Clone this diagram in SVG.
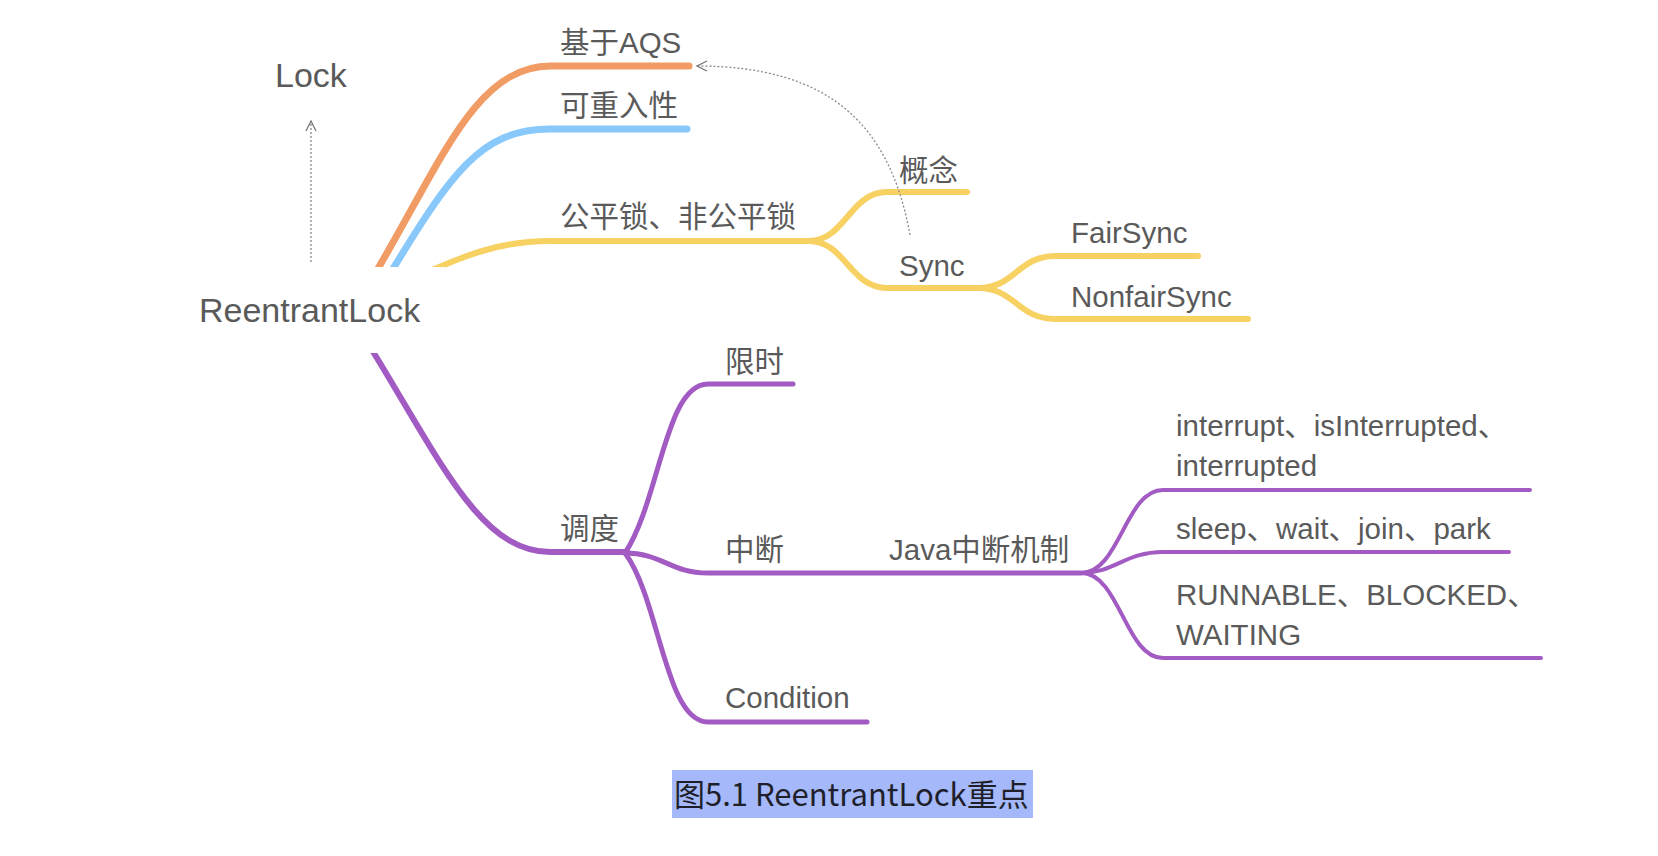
<svg xmlns="http://www.w3.org/2000/svg" width="1658" height="856" viewBox="0 0 1658 856">
<style>
.t{font-family:"Liberation Sans","Noto Sans CJK SC",sans-serif;font-size:29.5px;fill:#5a5a5a}
.big{font-size:34px}
.c{fill:none;stroke-linecap:round;stroke-linejoin:round}
.o{stroke:#F19C65;stroke-width:7}
.b{stroke:#88C8FB;stroke-width:7}
.y{stroke:#F8D163;stroke-width:6}
.p{stroke:#A25BC3;stroke-width:6}
.p2{stroke:#A25BC3;stroke-width:5}
.p3{stroke:#A25BC3;stroke-width:4}
.dot{fill:none;stroke:#8a8a8a;stroke-width:1.3;stroke-dasharray:2 2}
.cap{font-family:"Noto Sans CJK SC","Noto Sans",sans-serif;font-size:31px;fill:#1f1f2a}
</style>
<defs>
<marker id="ah" viewBox="0 0 12 12" refX="11" refY="6" markerWidth="12" markerHeight="12" markerUnits="userSpaceOnUse" orient="auto">
<path d="M1,1 L11,6 L1,11" fill="none" stroke="#777" stroke-width="1.3"/>
</marker>
</defs>
<rect width="1658" height="856" fill="#fff"/>
<g id="connectors">
<path class="c o" d="M373,277 C440,165 475,66 550,66 L689,66"/>
<path class="c b" d="M388,277 C450,175 480,129 550,129 L687,129"/>
<path class="c y" d="M410,280 C470,252 505,241 550,241 L809,241"/>
<path class="c y" d="M809,241 C845,241 850,192 887,192 L967,192"/>
<path class="c y" d="M809,241 C845,241 850,288 887,288 L978,288"/>
<path class="c y" d="M978,288 C1015,288 1018,256 1055,256 L1198,256"/>
<path class="c y" d="M978,288 C1015,288 1018,319 1055,319 L1248,319"/>
<path class="c p" d="M369,345 C440,460 480,552 550,552 L627,552"/>
<path class="c p2" d="M625,553 C660,500 665,384 708,384 L793,384"/>
<path class="c p2" d="M625,553 C662,553 670,573 708,573 L1081,573"/>
<path class="c p2" d="M625,553 C660,600 665,722 708,722 L867,722"/>
<path class="c p3" d="M1081,573 C1120,573 1125,490 1163,490 L1530,490"/>
<path class="c p3" d="M1081,573 C1115,573 1125,552 1163,552 L1509,552"/>
<path class="c p3" d="M1081,573 C1120,573 1125,658 1163,658 L1541,658"/>
<path class="dot" d="M910,235 C890,125 830,66 697,66" marker-end="url(#ah)"/>
<path class="dot" d="M311,262 L311,121" marker-end="url(#ah)"/>
</g>
<g id="root">
<rect x="180" y="267" width="265" height="86" fill="#fff"/>
<text class="t big" x="199" y="322">ReentrantLock</text>
</g>
<g id="lock"><text class="t big" x="275" y="87">Lock</text></g>
<g id="aqs"><text class="t" x="560" y="53">基于AQS</text></g>
<g id="reentrant"><text class="t" x="560" y="116">可重入性</text></g>
<g id="fair"><text class="t" x="560" y="227">公平锁、非公平锁</text></g>
<g id="concept"><text class="t" x="899" y="181">概念</text></g>
<g id="sync"><text class="t" x="899" y="276">Sync</text></g>
<g id="fairsync"><text class="t" x="1071" y="243">FairSync</text></g>
<g id="nonfairsync"><text class="t" x="1071" y="307">NonfairSync</text></g>
<g id="schedule"><text class="t" x="560" y="539">调度</text></g>
<g id="timed"><text class="t" x="725" y="372">限时</text></g>
<g id="interrupt"><text class="t" x="725" y="560">中断</text></g>
<g id="condition"><text class="t" x="725" y="708">Condition</text></g>
<g id="java"><text class="t" x="889" y="560">Java中断机制</text></g>
<g id="methods"><text class="t" x="1176" y="436">interrupt、isInterrupted、</text><text class="t" x="1176" y="476">interrupted</text></g>
<g id="blocking"><text class="t" x="1176" y="539">sleep、wait、join、park</text></g>
<g id="states"><text class="t" x="1176" y="605">RUNNABLE、BLOCKED、</text><text class="t" x="1176" y="645">WAITING</text></g>
<g id="caption">
<rect x="672" y="770" width="361" height="48" fill="#A5B9FA"/>
<text class="cap" x="674" y="806">图5.1 ReentrantLock重点</text>
</g>
</svg>
